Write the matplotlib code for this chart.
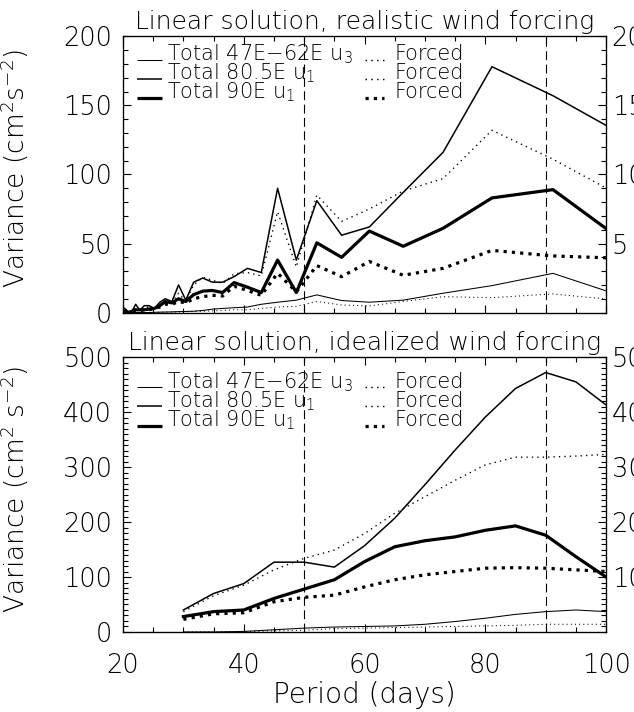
import numpy as np
import matplotlib
matplotlib.use("Agg")
from matplotlib import pyplot as plt
from matplotlib.ticker import MultipleLocator

# Realistic wind forcing (periods of a 2-year record, days)
periodsReal = [20.3, 20.9, 21.5, 22.1, 22.8, 23.5, 24.3, 25.2, 26.1, 27.0,
               28.1, 29.2, 30.4, 31.7, 33.2, 34.8, 36.5, 38.4, 40.6, 42.9,
               45.6, 48.7, 52.1, 56.2, 60.8, 66.4, 73.0, 81.1, 91.2, 104.3]
real47Total = [0, 0, 0, 0, 0, 0, 0, 0.2, 0.3, 0.4, 0.5, 0.7, 0.8, 1, 1.5,
               2.5, 3, 3.5, 4, 6, 7.5, 9, 12.8, 8.7, 7.5, 9, 14, 19.5, 28.4, 9.5]
real47Forced = [0, 0, 0, 0, 0, 0, 0, 0, 0.2, 0.3, 0.4, 0.5, 0.6, 0.8, 1,
                1.2, 1.5, 2, 2, 3, 4, 4.5, 8, 5.5, 4.8, 8, 11.5, 10.8, 13.5, 8]
real80Total = [3, 0.5, 1, 6, 1.5, 5, 5, 3, 7.5, 10, 8, 20, 9, 22, 25, 22, 22,
               26, 32, 29, 90, 38, 81, 56, 62, 87, 116, 178, 157, 125]
real80Forced = [2, 0.5, 1, 4, 1.5, 4, 4, 3, 6, 8, 7, 14, 8, 20, 25.5, 23.5,
                21, 28, 29, 26.5, 73, 33, 85, 66, 75, 88, 97, 132, 111, 80]
real90Total = [1, 0, 1, 2, 2, 2, 2.5, 3, 5, 8, 7, 10, 8, 13, 15.5, 16, 14.5,
               21.7, 18.4, 14.5, 38, 14.5, 50.5, 40, 59, 48, 61, 83, 89, 47]
real90Forced = [1, 0, 1, 1.5, 1.5, 2, 2, 3, 4, 6, 6, 8, 7, 10, 11.5, 12.5,
                12, 19, 16, 12.5, 28.5, 15, 34, 26, 37, 27, 32, 45, 41, 39]

# Idealized wind forcing
periodsIdeal = [30, 35, 40, 45, 50, 55, 60, 65, 70, 75, 80, 85, 90, 95, 100]
ideal47Total = [0, 0, 1, 4, 7, 9, 10, 11, 14, 19, 25, 32, 37, 40, 37]
ideal47Forced = [0, 0, 0.5, 2, 3, 6, 7, 8, 9, 10, 11, 12, 14, 14, 14]
ideal80Total = [40, 70, 88, 127, 127, 118, 157, 207, 268, 331, 391, 443, 472, 455, 413]
ideal80Forced = [37, 66, 85, 113, 134, 149, 179, 216, 246, 276, 304, 318, 318, 320, 323]
ideal90Total = [28, 37, 40, 61, 78, 95, 128, 155, 166, 173, 185, 193, 176, 137, 100]
ideal90Forced = [23, 33, 35, 55, 63, 67, 82, 95, 104, 110, 116, 117, 116, 113, 110]

legendLabels = ['Total 47E\u221262E u$_3$', 'Total 80.5E u$_1$', 'Total 90E u$_1$']

plt.rcParams['font.family'] = ['DejaVu Sans']
plt.rcParams['font.weight'] = 'light'
plt.rcParams['axes.labelweight'] = 'light'
plt.rcParams['mathtext.default'] = 'regular'

thin = 0.75
medium = 1.1
thick = 2.3
thinDot = (0, (1, 3))
thickDot = (0, (1, 1.6))
tickSize = 18.5


def styleAxes(ax, yMax, yMajor, yMinor, rightMax, rightMajor, rightMinor, showX):
    ax.set_xlim(20, 100)
    ax.set_ylim(0, yMax)
    ax.xaxis.set_major_locator(MultipleLocator(20))
    ax.xaxis.set_minor_locator(MultipleLocator(5))
    ax.yaxis.set_major_locator(MultipleLocator(yMajor))
    ax.yaxis.set_minor_locator(MultipleLocator(yMinor))
    ax.tick_params(which='both', direction='in', top=True, labelsize=tickSize, width=0.8)
    ax.tick_params(which='major', length=6)
    ax.tick_params(which='minor', length=3.5)
    ax.tick_params(axis='y', pad=8)
    ax.tick_params(axis='x', pad=15)
    if not showX:
        ax.tick_params(axis='x', labelbottom=False)
    for s in ax.spines.values():
        s.set_linewidth(0.9)
    ax2 = ax.twinx()
    ax2.set_ylim(0, rightMax)
    ax2.set_yticks(np.arange(rightMajor, rightMax + 0.1, rightMajor))
    ax2.yaxis.set_minor_locator(MultipleLocator(rightMinor))
    ax2.tick_params(which='both', direction='in', labelsize=tickSize, pad=4, width=0.8)
    ax2.tick_params(which='major', length=6)
    ax2.tick_params(which='minor', length=3.5)
    for v in [50, 90]:
        ax.axvline(v, color='black', lw=0.8, linestyle=(0, (8, 4)))


def drawLegend(ax, rows):
    widths = [thin, medium, thick]
    dots = [(thinDot, thin * 1.4), (thinDot, thin * 1.4), (thickDot, thick)]
    for i in range(0, 3):
        y = rows[i]
        ax.plot([0.028, 0.08], [y - 0.02, y - 0.02], transform=ax.transAxes,
                color='black', lw=widths[i], solid_capstyle='butt')
        ax.text(0.092, y, legendLabels[i], transform=ax.transAxes,
                fontsize=15, va='center', ha='left')
        ax.plot([0.5, 0.54], [y - 0.02, y - 0.02], transform=ax.transAxes,
                color='black', lw=dots[i][1], linestyle=dots[i][0])
        ax.text(0.563, y, 'Forced', transform=ax.transAxes,
                fontsize=15, va='center', ha='left')


def drawSeries(ax, x, t47, f47, t80, f80, t90, f90):
    ax.plot(x, t47, color='black', lw=thin)
    ax.plot(x, f47, color='black', lw=thin, linestyle=thinDot)
    ax.plot(x, t80, color='black', lw=medium)
    ax.plot(x, f80, color='black', lw=thin * 1.3, linestyle=thinDot)
    ax.plot(x, t90, color='black', lw=thick)
    ax.plot(x, f90, color='black', lw=thick, linestyle=thickDot)


fig = plt.figure(figsize=(6.34, 7.12), dpi=100)

axTop = fig.add_axes([0.194, 0.561, 0.762, 0.388])
drawSeries(axTop, periodsReal, real47Total, real47Forced, real80Total,
           real80Forced, real90Total, real90Forced)
styleAxes(axTop, 200, 50, 10, 20, 5, 1, False)
drawLegend(axTop, [0.935, 0.866, 0.797])
axTop.set_ylabel('Variance (cm$^2$s$^{-2}$)', fontsize=19)
axTop.yaxis.set_label_coords(-0.19, 0.52)
fig.text(0.575, 0.969, 'Linear solution, realistic wind forcing',
         fontsize=18, ha='center', va='center')

axBot = fig.add_axes([0.194, 0.1124, 0.762, 0.386])
drawSeries(axBot, periodsIdeal, ideal47Total, ideal47Forced, ideal80Total,
           ideal80Forced, ideal90Total, ideal90Forced)
styleAxes(axBot, 500, 100, 10, 50, 10, 1, True)
drawLegend(axBot, [0.910, 0.841, 0.771])
axBot.set_ylabel('Variance (cm$^2$ s$^{-2}$)', fontsize=19)
axBot.yaxis.set_label_coords(-0.19, 0.52)
axBot.set_xlabel('Period (days)', fontsize=20, labelpad=2)
fig.text(0.575, 0.518, 'Linear solution, idealized wind forcing',
         fontsize=18, ha='center', va='center')

plt.savefig('out.png', dpi=100)
